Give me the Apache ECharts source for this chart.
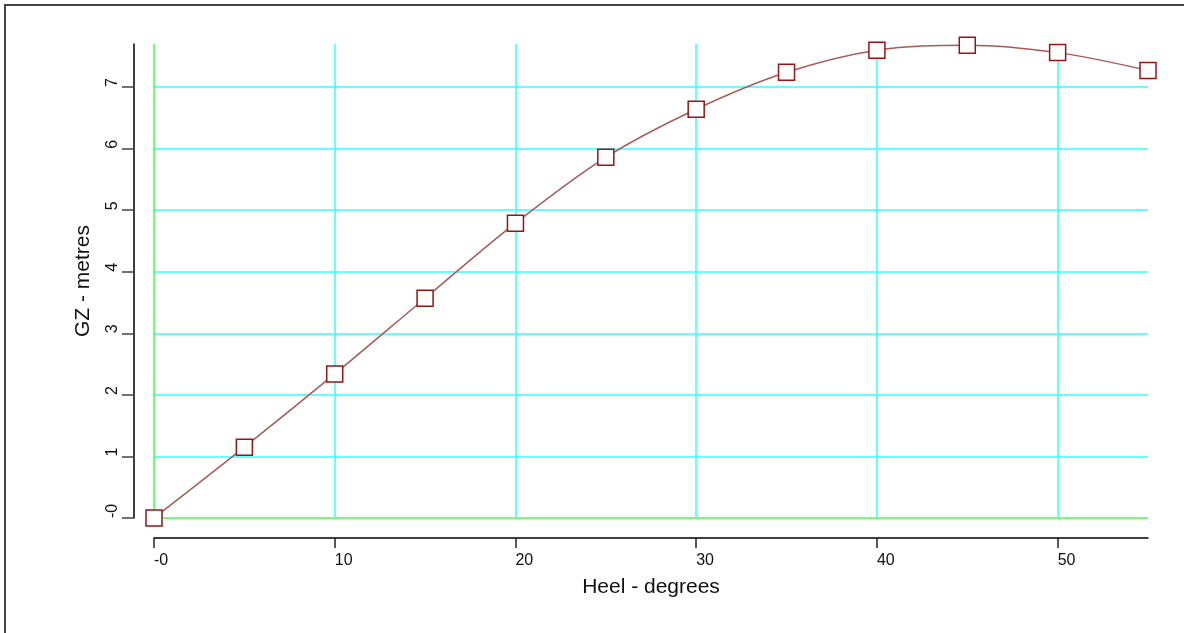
<!DOCTYPE html>
<html>
<head>
<meta charset="utf-8">
<script src="https://cdn.jsdelivr.net/npm/echarts@6/dist/echarts.min.js"></script>
<style>
  html, body { margin: 0; padding: 0; background: #fff; }
  #main { width: 1184px; height: 633px; }
</style>
</head>
<body>
<div id="main"></div>
<script>
// heel angle (degrees) and righting lever GZ (metres)
var heel = [0, 5, 10, 15, 20, 25, 30, 35, 40, 45, 50, 55];
var gz = [0, 1.15, 2.34, 3.57, 4.79, 5.86, 6.64, 7.24, 7.60, 7.68, 7.56, 7.27];
var xTicks = [0, 10, 20, 30, 40, 50];
var yTicks = [0, 1, 2, 3, 4, 5, 6, 7];

var chartDom = document.getElementById("main");
var myChart = echarts.init(chartDom);

var green = "#44ff44";
var cyan = "#33ffff";

function zeroLabel(v) {
    return v === 0 ? "-0" : String(v);
}

var option = {
    backgroundColor: "#fff",
    animation: false,
    graphic: [
        {
            type: "rect",
            shape: { x: 5, y: 5, width: 1300, height: 800 },
            style: { fill: "none", stroke: "#444", lineWidth: 2 },
        },
    ],
    grid: { left: 154, right: 36, top: 44, bottom: 115 },
    xAxis: {
        type: "value",
        min: 0,
        max: 55,
        interval: 10,
        offset: 20,
        name: "Heel - degrees",
        nameLocation: "middle",
        nameGap: 39,
        nameTextStyle: { fontFamily: "Liberation Sans", fontSize: 21, color: "#111" },
        axisLine: { show: true, onZero: false, lineStyle: { color: "#000", width: 1.5 } },
        axisTick: { show: true, length: 10, customValues: xTicks, lineStyle: { color: "#222", width: 1.5 } },
        axisLabel: {
            customValues: xTicks,
            formatter: zeroLabel,
            align: "left",
            margin: 15,
            fontFamily: "Liberation Sans",
            fontSize: 16,
            color: "#111",
        },
        splitLine: {
            show: true,
            lineStyle: { width: 1.5, color: [green, cyan, cyan, cyan, cyan, cyan, "transparent"] },
        },
    },
    yAxis: {
        type: "value",
        min: 0,
        max: 7.7,
        interval: 1,
        offset: 20,
        name: "GZ - metres",
        nameLocation: "middle",
        nameGap: 40,
        nameTextStyle: { fontFamily: "Liberation Sans", fontSize: 21, color: "#111" },
        axisLine: { show: true, onZero: false, lineStyle: { color: "#000", width: 1.5 } },
        axisTick: { show: true, length: 12, customValues: yTicks, lineStyle: { color: "#444", width: 1.5 } },
        axisLabel: {
            customValues: yTicks,
            formatter: zeroLabel,
            rotate: 90,
            align: "left",
            verticalAlign: "middle",
            margin: 21,
            fontFamily: "Liberation Sans",
            fontSize: 16,
            color: "#111",
        },
        splitLine: {
            show: true,
            lineStyle: {
                width: 1.5,
                color: [green, cyan, cyan, cyan, cyan, cyan, cyan, cyan, "transparent"],
            },
        },
    },
    series: [
        {
            type: "line",
            data: heel.map(function (h, i) { return [h, gz[i]]; }),
            smooth: 0.35,
            symbol: "rect",
            symbolSize: 16,
            showAllSymbol: true,
            lineStyle: { color: "#a85a5a", width: 1.5 },
            itemStyle: { color: "#fff", borderColor: "#951515", borderWidth: 1.5 },
            z: 5,
        },
    ],
};

option && myChart.setOption(option);
</script>
</body>
</html>
